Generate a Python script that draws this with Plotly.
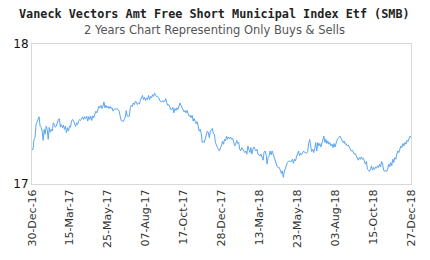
import numpy as np
import plotly.graph_objects as go

title_text = "Vaneck Vectors Amt Free Short Municipal Index Etf (SMB)"
subtitle_text = "2 Years Chart Representing Only Buys & Sells"

tick_labels = ["30-Dec-16", "15-Mar-17", "25-May-17", "07-Aug-17", "17-Oct-17",
               "28-Dec-17", "13-Mar-18", "23-May-18", "03-Aug-18", "15-Oct-18", "27-Dec-18"]
tick_index = [0, 50, 100, 150, 200, 250, 300, 350, 400, 450, 500]

prices = [
    17.246, 17.246, 17.319, 17.333, 17.425, 17.440, 17.461, 17.480, 17.413, 17.404, 17.378, 17.312,
    17.390, 17.355, 17.413, 17.390, 17.319, 17.404, 17.369, 17.390, 17.378, 17.437, 17.425, 17.406,
    17.413, 17.437, 17.461, 17.466, 17.406, 17.425, 17.402, 17.420, 17.390, 17.413, 17.367, 17.402,
    17.378, 17.413, 17.406, 17.449, 17.461, 17.449,
    17.430, 17.411, 17.437, 17.425, 17.449, 17.461, 17.454, 17.473, 17.480, 17.461, 17.480, 17.468,
    17.484, 17.449, 17.482, 17.461, 17.484, 17.454, 17.487, 17.473, 17.508, 17.520, 17.508, 17.539,
    17.555, 17.544, 17.562, 17.539, 17.555, 17.586, 17.544, 17.562, 17.544, 17.555, 17.539, 17.553,
    17.539, 17.544, 17.520, 17.532, 17.539, 17.532, 17.539, 17.532, 17.520, 17.484, 17.454,
    17.454, 17.445, 17.461, 17.477, 17.525, 17.484, 17.484, 17.484, 17.544, 17.562, 17.553, 17.579,
    17.567, 17.591, 17.586, 17.567, 17.579, 17.572, 17.596, 17.615, 17.633, 17.603, 17.619, 17.596,
    17.615, 17.603, 17.633, 17.603, 17.626, 17.615, 17.638, 17.626, 17.650, 17.633, 17.624, 17.626,
    17.619, 17.596, 17.591, 17.586, 17.596, 17.586, 17.591, 17.610, 17.579, 17.562, 17.567, 17.544,
    17.532,
    17.532, 17.548, 17.508, 17.539, 17.525, 17.544, 17.532, 17.555, 17.579, 17.562, 17.544, 17.532,
    17.515, 17.525, 17.508, 17.525, 17.496, 17.484, 17.491, 17.473, 17.491, 17.449, 17.468, 17.449,
    17.430, 17.445, 17.413, 17.378, 17.390, 17.359, 17.296, 17.303, 17.296, 17.319, 17.355, 17.378,
    17.367, 17.331, 17.378, 17.390, 17.397, 17.359, 17.355, 17.296, 17.272, 17.260, 17.248, 17.236,
    17.260, 17.272, 17.307, 17.284, 17.319, 17.307, 17.342, 17.319, 17.335, 17.324, 17.335, 17.319,
    17.326, 17.296, 17.272, 17.284, 17.312, 17.289, 17.296, 17.248, 17.236, 17.260, 17.241, 17.236,
    17.225, 17.236, 17.213, 17.272, 17.248, 17.225, 17.260, 17.213, 17.248, 17.264, 17.248, 17.236,
    17.248, 17.213, 17.208, 17.201, 17.213, 17.189, 17.170, 17.225, 17.236, 17.213, 17.142, 17.189,
    17.201, 17.236, 17.208, 17.236, 17.213, 17.201, 17.177, 17.161, 17.123, 17.118, 17.118, 17.099,
    17.076, 17.094, 17.048, 17.090, 17.118, 17.142, 17.154, 17.161, 17.165, 17.161, 17.161, 17.177,
    17.147, 17.177, 17.165, 17.194, 17.213, 17.236, 17.201, 17.218, 17.208, 17.225, 17.236, 17.225,
    17.225, 17.218, 17.232, 17.289, 17.319, 17.272, 17.232, 17.248, 17.225, 17.255, 17.296, 17.236,
    17.296, 17.272, 17.289, 17.264, 17.289, 17.331, 17.342, 17.296, 17.319, 17.289, 17.307, 17.284,
    17.296, 17.272, 17.284, 17.260, 17.289, 17.264, 17.296, 17.312, 17.326, 17.335, 17.342, 17.326,
    17.312, 17.296, 17.307, 17.284, 17.289, 17.272, 17.279, 17.260, 17.248, 17.236, 17.241, 17.225,
    17.213, 17.218, 17.201, 17.194, 17.170, 17.189, 17.177, 17.194, 17.177, 17.184, 17.154, 17.142,
    17.161, 17.106, 17.099, 17.090, 17.106, 17.130, 17.099, 17.118, 17.104, 17.123, 17.113, 17.130,
    17.118, 17.142, 17.123, 17.161, 17.142, 17.099, 17.090, 17.099, 17.090, 17.106, 17.142, 17.123,
    17.154, 17.130, 17.177, 17.154, 17.189, 17.177, 17.213, 17.236, 17.225, 17.248, 17.272, 17.260,
    17.289, 17.272, 17.296, 17.284, 17.312, 17.303, 17.319, 17.342, 17.335,
]

n = len(prices)
x = np.linspace(tick_index[0], tick_index[-1], n)

fig = go.Figure()
fig.add_trace(go.Scatter(x=x, y=prices, mode="lines",
                         line=dict(color="#5aa5f2", width=1), hoverinfo="skip"))

fig.update_layout(
    width=430, height=260,
    margin=dict(l=32, r=17, t=44, b=75),
    paper_bgcolor="white", plot_bgcolor="white",
    showlegend=False,
    font=dict(family="DejaVu Sans", color="#333333"),
    annotations=[
        dict(text="<b>" + title_text + "</b>", x=0.5, y=1, xref="paper", yref="paper",
             xanchor="center", yanchor="middle", yshift=44 - 14, xshift=-7, showarrow=False,
             font=dict(family="DejaVu Sans Mono", size=11.8, color="#222222")),
        dict(text=subtitle_text, x=0.5, y=1, xref="paper", yref="paper",
             xanchor="center", yanchor="middle", yshift=44 - 30, xshift=-7, showarrow=False,
             font=dict(family="DejaVu Sans", size=11.5, color="#555555")),
    ],
)
fig.update_xaxes(
    range=[tick_index[0], tick_index[-1]],
    tickvals=tick_index, ticktext=tick_labels, tickangle=-90,
    tickfont=dict(size=11, color="#333333"),
    showgrid=False, zeroline=False,
    showline=True, linecolor="#d9d9d9", linewidth=1, mirror=True, ticks="",
)
fig.update_yaxes(
    range=[17, 18], tickvals=[17, 18], ticktext=["17", "18"],
    tickfont=dict(size=12, color="#111111"),
    showgrid=False, zeroline=False,
    showline=True, linecolor="#d9d9d9", linewidth=1, mirror=True, ticks="",
)

fig.write_html("out.html")
